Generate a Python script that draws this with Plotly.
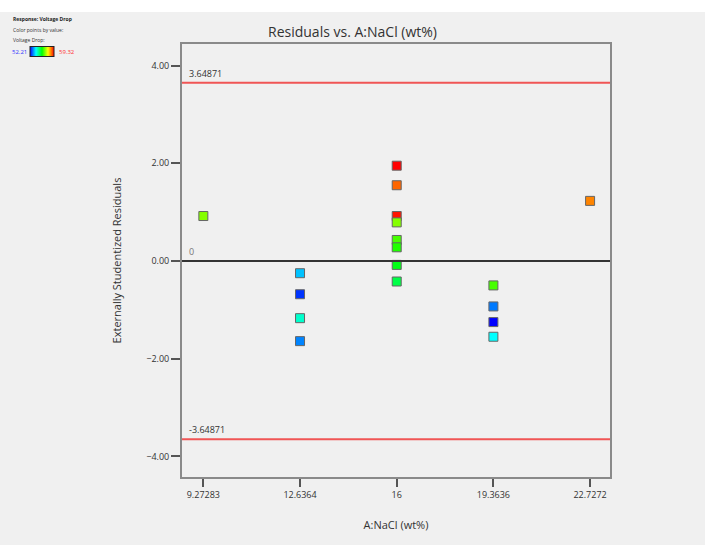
import plotly.graph_objects as go

# ---- data ----
x_nacl = [9.27283,
          12.6364, 12.6364, 12.6364, 12.6364,
          16, 16, 16, 16, 16, 16, 16, 16,
          19.3636, 19.3636, 19.3636, 19.3636,
          22.7272]
residuals = [0.92,
             -0.25, -0.68, -1.17, -1.64,
             1.95, 1.55, 0.92, 0.79, 0.43, 0.28, -0.08, -0.42,
             -0.50, -0.93, -1.25, -1.55,
             1.23]
voltage_drop = [56.69,
                53.56, 52.57, 54.34, 53.13,
                59.32, 58.61, 59.18, 56.69, 56.26, 55.98, 55.62, 55.27,
                56.26, 53.06, 52.21, 53.99,
                58.40]
vd_min, vd_max = 52.21, 59.32
limit_upper = 3.64871
limit_lower = -3.64871
x_tickvals = [9.27283, 12.6364, 16, 19.3636, 22.7272]
x_ticktext = ["9.27283", "12.6364", "16", "19.3636", "22.7272"]
y_tickvals = [-4, -2, 0, 2, 4]

W, H = 705, 545
L, R, T, B = 182, 95, 44, 68
PW, PH = W - L - R, H - T - B


def px(xp):
    return (xp - L) / PW


def py(yp):
    return (H - B - yp) / PH


FONT = "Open Sans"
colorscale = [[0, "#0000ff"], [0.25, "#00ffff"], [0.5, "#00ff00"], [0.75, "#ffff00"], [1, "#ff0000"]]

fig = go.Figure()
fig.add_trace(go.Scatter(
    x=x_nacl, y=residuals, mode="markers",
    marker=dict(symbol="square", size=9, color=voltage_drop, cmin=vd_min, cmax=vd_max,
                colorscale=colorscale, line=dict(color="#666666", width=1),
                showscale=True,
                colorbar=dict(orientation="h", thickness=10, thicknessmode="pixels",
                              len=24, lenmode="pixels", x=px(30), xanchor="left",
                              y=py(52), yanchor="middle", xpad=0, ypad=0,
                              showticklabels=False, ticks="", outlinewidth=1,
                              outlinecolor="#222222")),
    showlegend=False, hoverinfo="x+y"))

xr = [8.53, 23.42]
for yv, col, w in [(limit_upper, "#f05555", 2), (limit_lower, "#f05555", 2), (0, "#333333", 2)]:
    fig.add_trace(go.Scatter(x=xr, y=[yv, yv], mode="lines", line=dict(color=col, width=w),
                             showlegend=False, hoverinfo="skip"))

ann = []
ann.append(dict(x=8.7, y=limit_upper, xref="x", yref="y", text=f"{limit_upper:g}", showarrow=False,
                xanchor="left", yanchor="bottom", yshift=1, font=dict(size=9, color="#333333", family=FONT)))
ann.append(dict(x=8.7, y=limit_lower, xref="x", yref="y", text=f"{limit_lower:g}", showarrow=False,
                xanchor="left", yanchor="bottom", yshift=1, font=dict(size=9, color="#333333", family=FONT)))
ann.append(dict(x=8.7, y=0, xref="x", yref="y", text="0", showarrow=False,
                xanchor="left", yanchor="bottom", yshift=1, font=dict(size=9, color="#777777", family=FONT)))
# response legend
ann.append(dict(x=px(11), y=py(19), xref="paper", yref="paper", text="<b>Response: Voltage Drop</b>",
                showarrow=False, xanchor="left", yanchor="middle", font=dict(size=5, color="#222222", family=FONT)))
ann.append(dict(x=px(11), y=py(30), xref="paper", yref="paper", text="Color points by value:",
                showarrow=False, xanchor="left", yanchor="middle", font=dict(size=5, color="#333333", family=FONT)))
ann.append(dict(x=px(11), y=py(40), xref="paper", yref="paper", text="Voltage Drop:",
                showarrow=False, xanchor="left", yanchor="middle", font=dict(size=5, color="#333333", family=FONT)))
ann.append(dict(x=px(29), y=py(52), xref="paper", yref="paper", text=f"{vd_min:.2f}",
                showarrow=False, xanchor="right", yanchor="middle", font=dict(size=6, color="#3333ff", family=FONT)))
ann.append(dict(x=px(57), y=py(52), xref="paper", yref="paper", text=f"{vd_max:.2f}",
                showarrow=False, xanchor="left", yanchor="middle", font=dict(size=6, color="#ff3333", family=FONT)))

fig.update_layout(
    width=W, height=H,
    margin=dict(l=L, r=R, t=T, b=B, pad=0),
    paper_bgcolor="#f0f0f0", plot_bgcolor="#f0f0f0",
    title=dict(text="Residuals vs. A:NaCl (wt%)", x=px(396), xanchor="center",
               y=1 - 32 / H, yanchor="middle", font=dict(size=14, color="#333333", family=FONT)),
    annotations=ann,
    shapes=[dict(type="rect", xref="paper", yref="paper", x0=px(-5), x1=px(W + 5), y0=py(12), y1=py(-5),
                 fillcolor="white", line=dict(width=0), layer="below")],
    xaxis=dict(range=xr, tickvals=x_tickvals, ticktext=x_ticktext, showgrid=False, zeroline=False,
               ticks="outside", ticklen=8, tickwidth=1.5, tickcolor="#555555",
               showline=True, linecolor="#8a8a8a", linewidth=2, mirror=True,
               tickfont=dict(size=9, color="#333333", family=FONT),
               title=dict(text="A:NaCl (wt%)", standoff=22, font=dict(size=11, color="#333333", family=FONT))),
    yaxis=dict(range=[-4.42, 4.44], tickvals=y_tickvals, tickformat=".2f", showgrid=False, zeroline=False,
               ticks="outside", ticklen=9, tickwidth=1.5, tickcolor="#555555",
               showline=True, linecolor="#8a8a8a", linewidth=2, mirror=True,
               tickfont=dict(size=9, color="#333333", family=FONT),
               title=dict(text="Externally Studentized Residuals", standoff=22,
                          font=dict(size=11, color="#333333", family=FONT))),
)

fig.write_html("out.html")
